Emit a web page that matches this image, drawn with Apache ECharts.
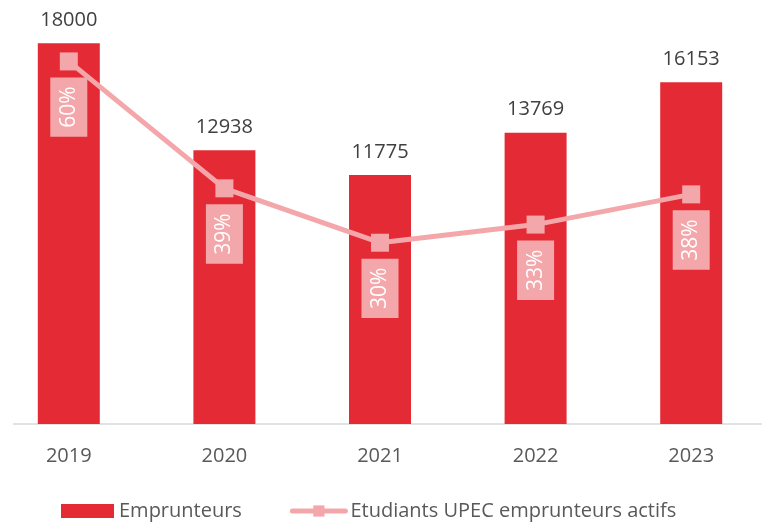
<!DOCTYPE html>
<html>
<head>
<meta charset="utf-8">
<script src="https://cdn.jsdelivr.net/npm/echarts@6/dist/echarts.min.js"></script>
<style>
  html, body { margin: 0; padding: 0; background: #fff; overflow: hidden; }
  /* the plot is a little wider than the window: the first and last categories are cut at the edges */
  #chart { width: 778px; height: 524px; margin-left: -9px; }
</style>
</head>
<body>
<div id="chart"></div>
<script>
const years = ['2019', '2020', '2021', '2022', '2023'];
const emprunteurs = [18000, 12938, 11775, 13769, 16153];
const tauxActifs = [60, 39, 30, 33, 38];

const FONT = '"Open Sans", "Noto Sans", sans-serif';
const RED = '#e42a35';
const PINK = '#f4a7ab';
const SHIFT = 9; // div is moved 9px left

const chart = echarts.init(document.getElementById('chart'));

chart.setOption({
  animation: false,
  textStyle: { fontFamily: FONT },
  grid: { left: 0, right: 0, top: 1, bottom: 100 },
  legend: {
    left: 61 + SHIFT,
    top: 501,
    padding: 0,
    itemWidth: 53,
    itemHeight: 14,
    itemGap: 48,
    textStyle: { fontSize: 20, color: '#595959', fontFamily: FONT },
    data: [
      { name: 'Emprunteurs', icon: 'rect' },
      {
        name: 'Etudiants UPEC emprunteurs actifs',
        lineStyle: { width: 5, cap: 'round' },
        itemStyle: { color: PINK }
      }
    ]
  },
  xAxis: {
    type: 'category',
    data: years,
    axisLine: { show: false },
    axisTick: { show: false },
    axisLabel: { fontSize: 20, color: '#595959', margin: 22, fontFamily: FONT }
  },
  yAxis: [
    { type: 'value', min: 0, max: 20000, show: false },
    { type: 'value', min: 0, max: 70, show: false }
  ],
  graphic: [
    {
      type: 'line',
      shape: { x1: 13 + SHIFT, y1: 424, x2: 778, y2: 424 },
      style: { stroke: '#d9d9d9', lineWidth: 1.5 },
      z: 1
    }
  ],
  series: [
    {
      name: 'Emprunteurs',
      type: 'bar',
      data: emprunteurs,
      barWidth: 62,
      itemStyle: { color: RED },
      label: {
        show: true,
        position: 'top',
        distance: 13,
        fontSize: 20,
        color: '#404040',
        fontFamily: FONT
      }
    },
    {
      name: 'Etudiants UPEC emprunteurs actifs',
      type: 'line',
      yAxisIndex: 1,
      data: tauxActifs,
      symbol: 'rect',
      symbolSize: 18,
      lineStyle: { color: PINK, width: 5 },
      itemStyle: { color: PINK },
      z: 5,
      label: {
        show: true,
        position: 'bottom',
        distance: 7,
        rotate: 90,
        align: 'right',
        verticalAlign: 'middle',
        formatter: '{c}%',
        fontSize: 21,
        color: '#ffffff',
        backgroundColor: PINK,
        padding: [8, 9],
        fontFamily: FONT
      }
    }
  ]
});
</script>
</body>
</html>
